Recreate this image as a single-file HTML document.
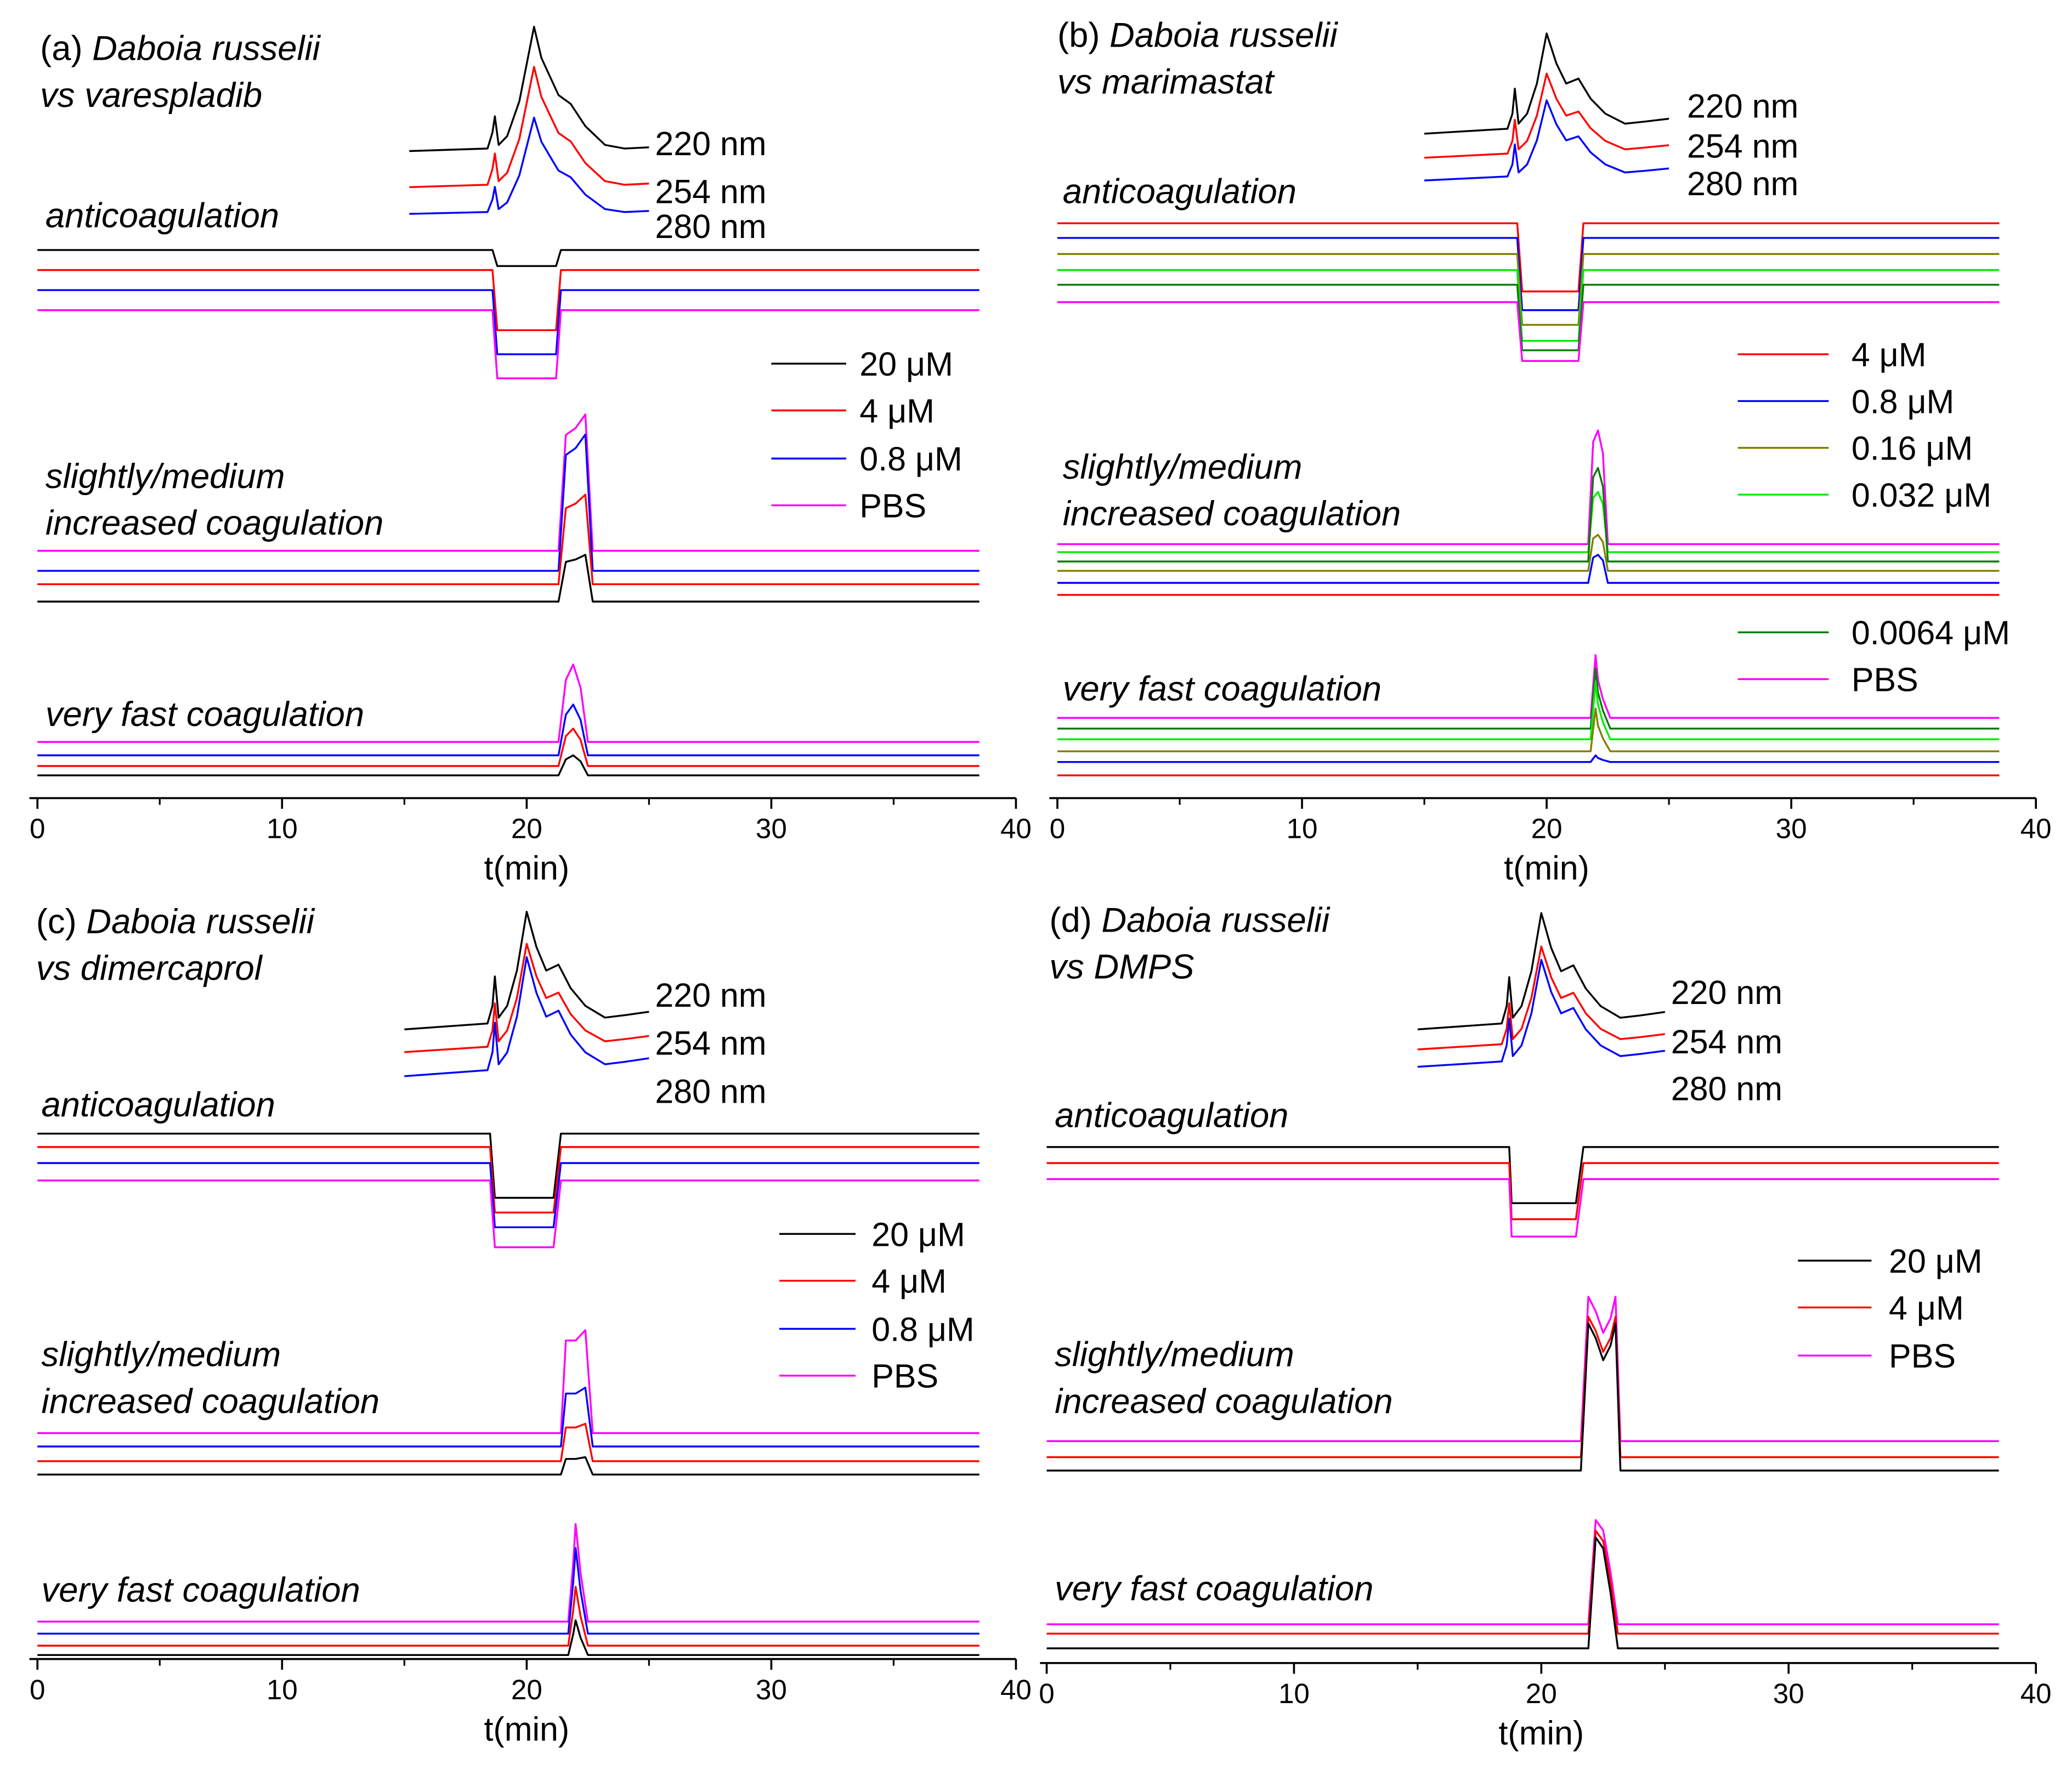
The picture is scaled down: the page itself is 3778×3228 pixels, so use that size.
<!DOCTYPE html>
<html><head><meta charset="utf-8">
<style>
html,body{margin:0;padding:0;background:#fff;}
svg{display:block;}
text{font-family:"Liberation Sans",Arial,sans-serif;fill:#000;}
.it{font-style:italic;}
</style></head>
<body>
<svg id="chart" xmlns="http://www.w3.org/2000/svg" width="3778" height="3228" viewBox="0 0 1550 1324" preserveAspectRatio="none">
<rect x="0" y="0" width="1550" height="1324" fill="#fff"/>
</svg>
<script>
// ===== shared data =====
const tickValues = [0, 10, 20, 30, 40];
const minorTickValues = [5, 15, 25, 35];
const tEnd = 38.5;

// Panel (a)
const aUvT = [15.2,18.4,18.6,18.7,18.85,19.2,19.7,20.0,20.3,20.6,20.9,21.3,21.8,22.4,23.2,24.0,25.0];
const aUvShape = [0,0.02,0.15,0.28,0.05,0.12,0.4,0.7,1.0,0.75,0.62,0.45,0.38,0.2,0.05,0.02,0.03];
const aUvBase = [484,457,437];
const aUvAmp = [93,90,72];
const aAntT = [0,18.6,18.8,19.5,20.2,20.8,21.2,21.4,38.5];
const aAntShape = [0,0,1,1,1,1,1,0,0];
const aAntBase = [410,395,380,365];
const aAntDepth = [12,45,48,51];
const aSlT = [0,21.3,21.6,22.0,22.4,22.7,38.5];
const aSlShape = [0,0,0.85,0.9,1,0,0];
const aSlBase = [185,170,160,147];
const aSlAmp = [102,102,67,35];
const aFT = [0,21.3,21.6,21.9,22.2,22.5,38.5];
const aFShape = [0,0,0.8,1,0.7,0,0];
const aFBase = [42,32,24,17];
const aFAmp = [58,38,28,15];

// Panel (b)
const bUvT = [15.0,18.4,18.6,18.7,18.85,19.2,19.6,20.0,20.4,20.8,21.3,21.8,22.4,23.2,24.0,25.0];
const bUvShape = [0,0.05,0.2,0.45,0.1,0.2,0.5,1.0,0.7,0.5,0.55,0.35,0.2,0.1,0.12,0.15];
const bUvBase = [497,479,462];
const bUvAmp = [75,63,60];
const bAntT = [0,18.8,19.0,21.3,21.5,38.5];
const bAntShape = [0,0,1,1,0,0];
const bAntBase = [430,419,407,395,384,371];
const bAntDepth = [51,54,53,53,49,44];
const bSlT = [0,21.7,21.9,22.1,22.3,22.5,38.5];
const bSlShape = [0,0,0.9,1,0.8,0,0];
const bSlBase = [190,184,177,170,161,152];
const bSlAmp = [85,45,70,27,21,0];
const bFT = [0,21.8,22.0,22.1,22.3,22.6,38.5];
const bFShape = [0,0,1,0.6,0.3,0,0];
const bFBase = [60,52,44,35,27,17];
const bFAmp = [47,45,43,32,5,0];

// Panel (c)
const cUvBase = [471,454,436];
const cUvAmp = [88,81,89];
const cAntT = [0,18.5,18.7,21.1,21.4,38.5];
const cAntShape = [0,0,1,1,0,0];
const cAntBase = [393,383,371,358];
const cAntDepth = [48,49,48,50];
const cSlT = [0,21.4,21.6,22.0,22.4,22.7,38.5];
const cSlShape = [0,0,0.9,0.9,1,0,0];
const cSlBase = [169,159,148,138];
const cSlAmp = [77,44,28,13];
const cFT = [0,21.7,21.9,22.0,22.2,22.5,38.5];
const cFShape = [0,0,0.6,1,0.5,0,0];
const cFBase = [28,19,10,3];
const cFAmp = [73,64,44,26];

// Panel (d)
const dUvBase = [474,459,446];
const dUvAmp = [87,77,80];
const dAntT = [0,18.7,18.8,21.4,21.7,38.5];
const dAntShape = [0,0,1,1,0,0];
const dAntBase = [386,374,362];
const dAntDepth = [42,42,43];
const dSlT = [0,21.6,21.9,22.2,22.5,22.8,23.0,23.2,38.5];
const dSlShape = [0,0,1,0.9,0.75,0.85,1,0,0];
const dSlBase = [166,154,144];
const dSlAmp = [108,105,110];
const dFT = [0,21.9,22.2,22.5,22.8,23.1,38.5];
const dFShape = [0,0,1,0.9,0.5,0,0];
const dFBase = [29,22,11];
const dFAmp = [78,77,83];

const uvColors = ['#000000','#ff0000','#0000ff'];
const uvLabels = ['220 nm','254 nm','280 nm'];
const colA = ['#000000','#ff0000','#0000ff','#ff00ff'];
const colB = ['#ff0000','#0000ff','#808000','#00ee00','#0a7a0a','#ff00ff'];
const colBSl = ['#ff00ff','#00ee00','#0a7a0a','#808000','#0000ff','#ff0000'];
const colBF = ['#ff00ff','#0a7a0a','#00ee00','#808000','#0000ff','#ff0000'];
const colASl = ['#ff00ff','#0000ff','#ff0000','#000000'];
const colD = ['#000000','#ff0000','#ff00ff'];
const colDSl = ['#ff00ff','#ff0000','#000000'];

const svg = document.getElementById('chart');
const NS = 'http://www.w3.org/2000/svg';
function mk(tag, attrs, parent){
  const e = document.createElementNS(NS, tag);
  for (const k in attrs) e.setAttribute(k, attrs[k]);
  (parent||svg).appendChild(e);
  return e;
}
function txt(x,y,s,size,cls,parent,anchor){
  const t = mk('text',{x:x,y:y,'font-size':size,'text-anchor':anchor||'start'},parent);
  if(cls) t.setAttribute('class',cls);
  t.textContent = s;
  return t;
}

function panel(cfg){
  const g = mk('g',{});
  
  
  const xs = t => cfg.x0 + t*cfg.k;
  const ys = v => cfg.axisY - v;
  const ax = mk('g',{},g);
  
  
  mk('line',{x1:cfg.ax0,x2:xs(40),y1:cfg.axisY,y2:cfg.axisY,stroke:'#000','stroke-width':1.5},ax);
  tickValues.forEach(v=>{
    mk('line',{x1:xs(v),x2:xs(v),y1:cfg.axisY,y2:cfg.axisY+8,stroke:'#000','stroke-width':1.5},ax);
    const tl = txt(xs(v), cfg.axisY+30, String(v), 21, null, ax, 'middle');
    
    
  });
  minorTickValues.forEach(v=>{
    mk('line',{x1:xs(v),x2:xs(v),y1:cfg.axisY,y2:cfg.axisY+5,stroke:'#000','stroke-width':1.3},ax);
  });
  const xt = txt(xs(20), cfg.axisY+61, 't(min)', 25, null, ax, 'middle');
  
  

  function trace(T, S, base, amp, color, name, sign){
    const pts = T.map((t,i)=> xs(t).toFixed(1)+','+ys(base + sign*amp*S[i]).toFixed(1)).join(' ');
    const p = mk('polyline',{points:pts,fill:'none',stroke:color,'stroke-width':1.4,'stroke-linejoin':'round'},g);
    
    
  }
  cfg.uvBase.forEach((b,i)=> trace(cfg.uvT, cfg.uvShape, b, cfg.uvAmp[i], uvColors[i], 'uv-trace-'+uvLabels[i].replace(' ',''), 1));
  uvLabels.forEach((s,i)=>{
    const l = txt(cfg.uvLabX, cfg.uvLabY[i], s, 25, null, g);
    
    
  });
  cfg.antBase.forEach((b,i)=> trace(cfg.antT, cfg.antShape, b, cfg.antDepth[i], cfg.antCol[i], 'anticoagulation-trace', -1));
  cfg.slBase.forEach((b,i)=> trace(cfg.slT, cfg.slShape, b, cfg.slAmp[i], cfg.slCol[i], 'coagulation-trace', 1));
  cfg.fBase.forEach((b,i)=> trace(cfg.fT, cfg.fShape, b, cfg.fAmp[i], cfg.fCol[i], 'fast-coagulation-trace', 1));

  const t1 = mk('text',{x:cfg.tx,y:cfg.titleY[0],'font-size':26},g);
  
  
  t1.textContent = cfg.letter + ' ';
  const ts = mk('tspan',{'font-style':'italic'},t1); ts.textContent = 'Daboia russelii';
  const t2 = txt(cfg.tx, cfg.titleY[1], cfg.vs, 26, 'it', g);
  
  
  [['anticoagulation',cfg.antLabY],['slightly/medium',cfg.slLabY[0]],['increased coagulation',cfg.slLabY[1]],['very fast coagulation',cfg.fLabY]].forEach(([s,y])=>{
    const l = txt(cfg.tx+4, y, s, 26, 'it', g);
    
    
  });
  cfg.legend.forEach(it=>{
    const lg = mk('g',{},g);
    
    
    mk('line',{x1:cfg.legX[0],x2:cfg.legX[1],y1:it[2],y2:it[2],stroke:it[1],'stroke-width':1.4},lg);
    txt(cfg.legX[2], it[2]+9, it[0], 25, null, lg);
  });
}

panel({name:'panel-a',letter:'(a)',vs:'vs varespladib',x0:28,k:18.3,axisY:597,ax0:22,tx:30,titleY:[45,80],
  uvT:aUvT,uvShape:aUvShape,uvBase:aUvBase,uvAmp:aUvAmp,uvLabX:490,uvLabY:[116,152,178],
  antT:aAntT,antShape:aAntShape,antBase:aAntBase,antDepth:aAntDepth,antCol:colA,
  slT:aSlT,slShape:aSlShape,slBase:aSlBase,slAmp:aSlAmp,slCol:colASl,
  fT:aFT,fShape:aFShape,fBase:aFBase,fAmp:aFAmp,fCol:colASl,
  antLabY:170,slLabY:[365,400],fLabY:543,legX:[577,633,643],
  legend:[['20 \u03bcM','#000000',272],['4 \u03bcM','#ff0000',307],['0.8 \u03bcM','#0000ff',343],['PBS','#ff00ff',378]]});

panel({name:'panel-b',letter:'(b)',vs:'vs marimastat',x0:791,k:18.3,axisY:597,ax0:785,tx:791,titleY:[35,70],
  uvT:bUvT,uvShape:bUvShape,uvBase:bUvBase,uvAmp:bUvAmp,uvLabX:1262,uvLabY:[88,118,146],
  antT:bAntT,antShape:bAntShape,antBase:bAntBase,antDepth:bAntDepth,antCol:colB,
  slT:bSlT,slShape:bSlShape,slBase:bSlBase,slAmp:bSlAmp,slCol:colBSl,
  fT:bFT,fShape:bFShape,fBase:bFBase,fAmp:bFAmp,fCol:colBF,
  antLabY:152,slLabY:[358,393],fLabY:524,legX:[1300,1368,1385],
  legend:[['4 \u03bcM','#ff0000',265],['0.8 \u03bcM','#0000ff',300],['0.16 \u03bcM','#808000',335],['0.032 \u03bcM','#00ee00',370],['0.0064 \u03bcM','#0a7a0a',473],['PBS','#ff00ff',508]]});

panel({name:'panel-c',letter:'(c)',vs:'vs dimercaprol',x0:28,k:18.3,axisY:1241,ax0:22,tx:27,titleY:[698,733],
  uvT:bUvT,uvShape:bUvShape,uvBase:cUvBase,uvAmp:cUvAmp,uvLabX:490,uvLabY:[753,789,825],
  antT:cAntT,antShape:cAntShape,antBase:cAntBase,antDepth:cAntDepth,antCol:colA,
  slT:cSlT,slShape:cSlShape,slBase:cSlBase,slAmp:cSlAmp,slCol:colASl,
  fT:cFT,fShape:cFShape,fBase:cFBase,fAmp:cFAmp,fCol:colASl,
  antLabY:835,slLabY:[1022,1057],fLabY:1198,legX:[583,640,652],
  legend:[['20 \u03bcM','#000000',923],['4 \u03bcM','#ff0000',958],['0.8 \u03bcM','#0000ff',994],['PBS','#ff00ff',1029]]});

panel({name:'panel-d',letter:'(d)',vs:'vs DMPS',x0:783,k:18.5,axisY:1244,ax0:778,tx:785,titleY:[697,732],
  uvT:bUvT,uvShape:bUvShape,uvBase:dUvBase,uvAmp:dUvAmp,uvLabX:1250,uvLabY:[751,788,823],
  antT:dAntT,antShape:dAntShape,antBase:dAntBase,antDepth:dAntDepth,antCol:colD,
  slT:dSlT,slShape:dSlShape,slBase:dSlBase,slAmp:dSlAmp,slCol:colDSl,
  fT:dFT,fShape:dFShape,fBase:dFBase,fAmp:dFAmp,fCol:colDSl,
  antLabY:843,slLabY:[1022,1057],fLabY:1197,legX:[1345,1400,1413],
  legend:[['20 \u03bcM','#000000',943],['4 \u03bcM','#ff0000',978],['PBS','#ff00ff',1014]]});
</script>
</body></html>
